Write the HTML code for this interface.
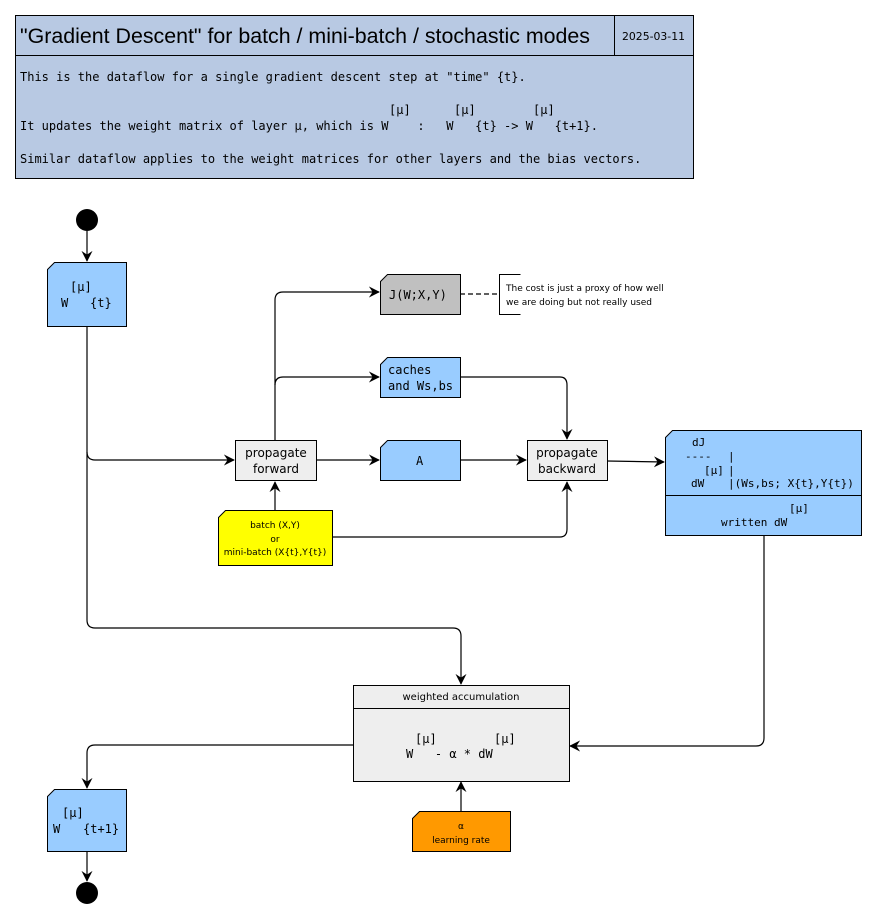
<!DOCTYPE html>
<html><head><meta charset="utf-8"><style>
body{margin:0;background:#fff}
svg{display:block}
.m{font-family:"DejaVu Sans Mono","Liberation Mono",monospace}
.s{font-family:"DejaVu Sans","Liberation Sans",sans-serif}
</style></head><body>
<svg width="877" height="920" viewBox="0 0 877 920" xmlns="http://www.w3.org/2000/svg">
<defs><marker id="a" viewBox="0 0 12 12" refX="11" refY="6" markerWidth="11" markerHeight="11" orient="auto" markerUnits="userSpaceOnUse"><path d="M0,0 L12,6 L0,12 L4,6 Z" fill="#000"/></marker></defs>
<g stroke="#000" stroke-width="1" fill="none">
<rect x="15.5" y="15.5" width="678" height="163" fill="#b8c9e3"/>
<line x1="15.5" y1="55.5" x2="693.5" y2="55.5"/>
<line x1="614.5" y1="15.5" x2="614.5" y2="55.5"/>
</g>
<text x="20" y="43" font-family="Liberation Sans, sans-serif" font-size="21" textLength="570" lengthAdjust="spacingAndGlyphs">"Gradient Descent" for batch / mini-batch / stochastic modes</text>
<text x="622" y="40" class="s" font-size="11" textLength="63" lengthAdjust="spacingAndGlyphs">2025-03-11</text>
<g class="m" font-size="12">
<text x="20" y="81">This&#160;is&#160;the&#160;dataflow&#160;for&#160;a&#160;single&#160;gradient&#160;descent&#160;step&#160;at&#160;"time"&#160;{t}.</text>
<text x="389" y="114">[μ]</text><text x="454" y="114">[μ]</text><text x="533" y="114">[μ]</text>
<text x="20" y="130">It&#160;updates&#160;the&#160;weight&#160;matrix&#160;of&#160;layer&#160;μ,&#160;which&#160;is&#160;W&#160;&#160;&#160;&#160;:&#160;&#160;&#160;W&#160;&#160;&#160;{t}&#160;-&gt;&#160;W&#160;&#160;&#160;{t+1}.</text>
<text x="20" y="163">Similar&#160;dataflow&#160;applies&#160;to&#160;the&#160;weight&#160;matrices&#160;for&#160;other&#160;layers&#160;and&#160;the&#160;bias&#160;vectors.</text>
</g>
<circle cx="87" cy="220" r="11" fill="#000"/>
<circle cx="87" cy="893" r="11" fill="#000"/>
<g stroke="#000" stroke-width="1.2" fill="none">
<line x1="87" y1="231" x2="87" y2="261" marker-end="url(#a)"/>
<path d="M87,326 V452 Q87,460 95,460 H234" marker-end="url(#a)"/>
<path d="M87,452 V620 Q87,628 95,628 H453 Q461,628 461,636 V684" marker-end="url(#a)"/>
<path d="M275,440 V300 Q275,292 283,292 H379" marker-end="url(#a)"/>
<path d="M275,385 Q275,377 283,377 H379" marker-end="url(#a)"/>
<line x1="316" y1="460" x2="379" y2="460" marker-end="url(#a)"/>
<line x1="460" y1="460" x2="526" y2="460" marker-end="url(#a)"/>
<path d="M460,377 H560 Q567,377 567,385 V439" marker-end="url(#a)"/>
<line x1="275" y1="510" x2="275" y2="482" marker-end="url(#a)"/>
<path d="M332,537 H560 Q567,537 567,529 V482" marker-end="url(#a)"/>
<line x1="607" y1="461" x2="664" y2="462" marker-end="url(#a)"/>
<path d="M764,535 V738 Q764,746 756,746 H570" marker-end="url(#a)"/>
<line x1="461" y1="811" x2="461" y2="782" marker-end="url(#a)"/>
<path d="M353,745 H95 Q87,745 87,753 V788" marker-end="url(#a)"/>
<line x1="87" y1="851" x2="87" y2="881" marker-end="url(#a)"/>
<line x1="460" y1="294" x2="499" y2="294" stroke-dasharray="5,3"/>
</g>
<g stroke="#000" stroke-width="1">
<path d="M47.5,269.5 L54.5,262.5 H126.5 V326.5 H47.5 Z" fill="#99ccff"/>
<path d="M380.5,281.5 L387.5,274.5 H460.5 V314.5 H380.5 Z" fill="#c0c0c0"/>
<path d="M380.5,364.5 L387.5,357.5 H460.5 V397.5 H380.5 Z" fill="#99ccff"/>
<path d="M380.5,447.5 L387.5,440.5 H460.5 V480.5 H380.5 Z" fill="#99ccff"/>
<path d="M665.5,437.5 L672.5,430.5 H861.5 V535.5 H665.5 Z" fill="#99ccff"/>
<line x1="665.5" y1="495.5" x2="861.5" y2="495.5"/>
<path d="M218.5,517.5 L225.5,510.5 H332.5 V565.5 H218.5 Z" fill="#ffff00"/>
<path d="M412.5,818.5 L419.5,811.5 H510.5 V851.5 H412.5 Z" fill="#ff9900"/>
<path d="M47.5,796.5 L54.5,789.5 H126.5 V851.5 H47.5 Z" fill="#99ccff"/>
<rect x="235.5" y="440.5" width="81" height="40" fill="#eeeeee"/>
<rect x="527.5" y="440.5" width="80" height="40" fill="#eeeeee"/>
<rect x="353.5" y="685.5" width="216" height="96" fill="#eeeeee"/>
<line x1="353.5" y1="708.5" x2="569.5" y2="708.5"/>
<path d="M520.5,274.5 H499.5 V314.5 H520.5" fill="none"/>
</g>
<g class="m" font-size="12">
<text x="70" y="291">[μ]</text>
<text x="61" y="307">W</text><text x="90" y="307">{t}</text>
<text x="62" y="817">[μ]</text>
<text x="53" y="833">W</text><text x="83" y="833">{t+1}</text>
<text x="389" y="299">J(W;X,Y)</text>
<text x="388" y="374">caches</text>
<text x="388" y="390">and&#160;Ws,bs</text>
<text x="416" y="465">A</text>
<text x="692" y="446" font-size="11">dJ</text>
<text x="685" y="460" font-size="11">----</text><text x="728" y="460" font-size="11">|</text>
<text x="704" y="474" font-size="11">[μ]</text><text x="728" y="474" font-size="11">|</text>
<text x="691" y="487" font-size="11">dW</text><text x="728" y="487" font-size="11">|(Ws,bs;&#160;X{t},Y{t})</text>
<text x="789" y="512" font-size="11">[μ]</text>
<text x="721" y="526" font-size="11">written&#160;dW</text>
<text x="415" y="743">[μ]</text><text x="494" y="743">[μ]</text>
<text x="406" y="758">W&#160;&#160;&#160;-&#160;α&#160;*&#160;dW</text>
</g>
<g class="s" text-anchor="middle">
<text x="276" y="457" font-size="12">propagate</text>
<text x="276" y="473" font-size="12">forward</text>
<text x="567" y="457" font-size="12">propagate</text>
<text x="567" y="473" font-size="12">backward</text>
<text x="275" y="528" font-size="9">batch  (X,Y)</text>
<text x="275" y="542" font-size="9">or</text>
<text x="275" y="555" font-size="9">mini-batch (X{t},Y{t})</text>
<text x="461" y="700" font-size="10">weighted accumulation</text>
<text x="461" y="829" font-size="9">α</text>
<text x="461" y="843" font-size="9">learning rate</text>
</g>
<g class="s" font-size="9">
<text x="506" y="291">The cost is just a proxy of how well</text>
<text x="506" y="305">we are doing but not really used</text>
</g>
</svg>
</body></html>
